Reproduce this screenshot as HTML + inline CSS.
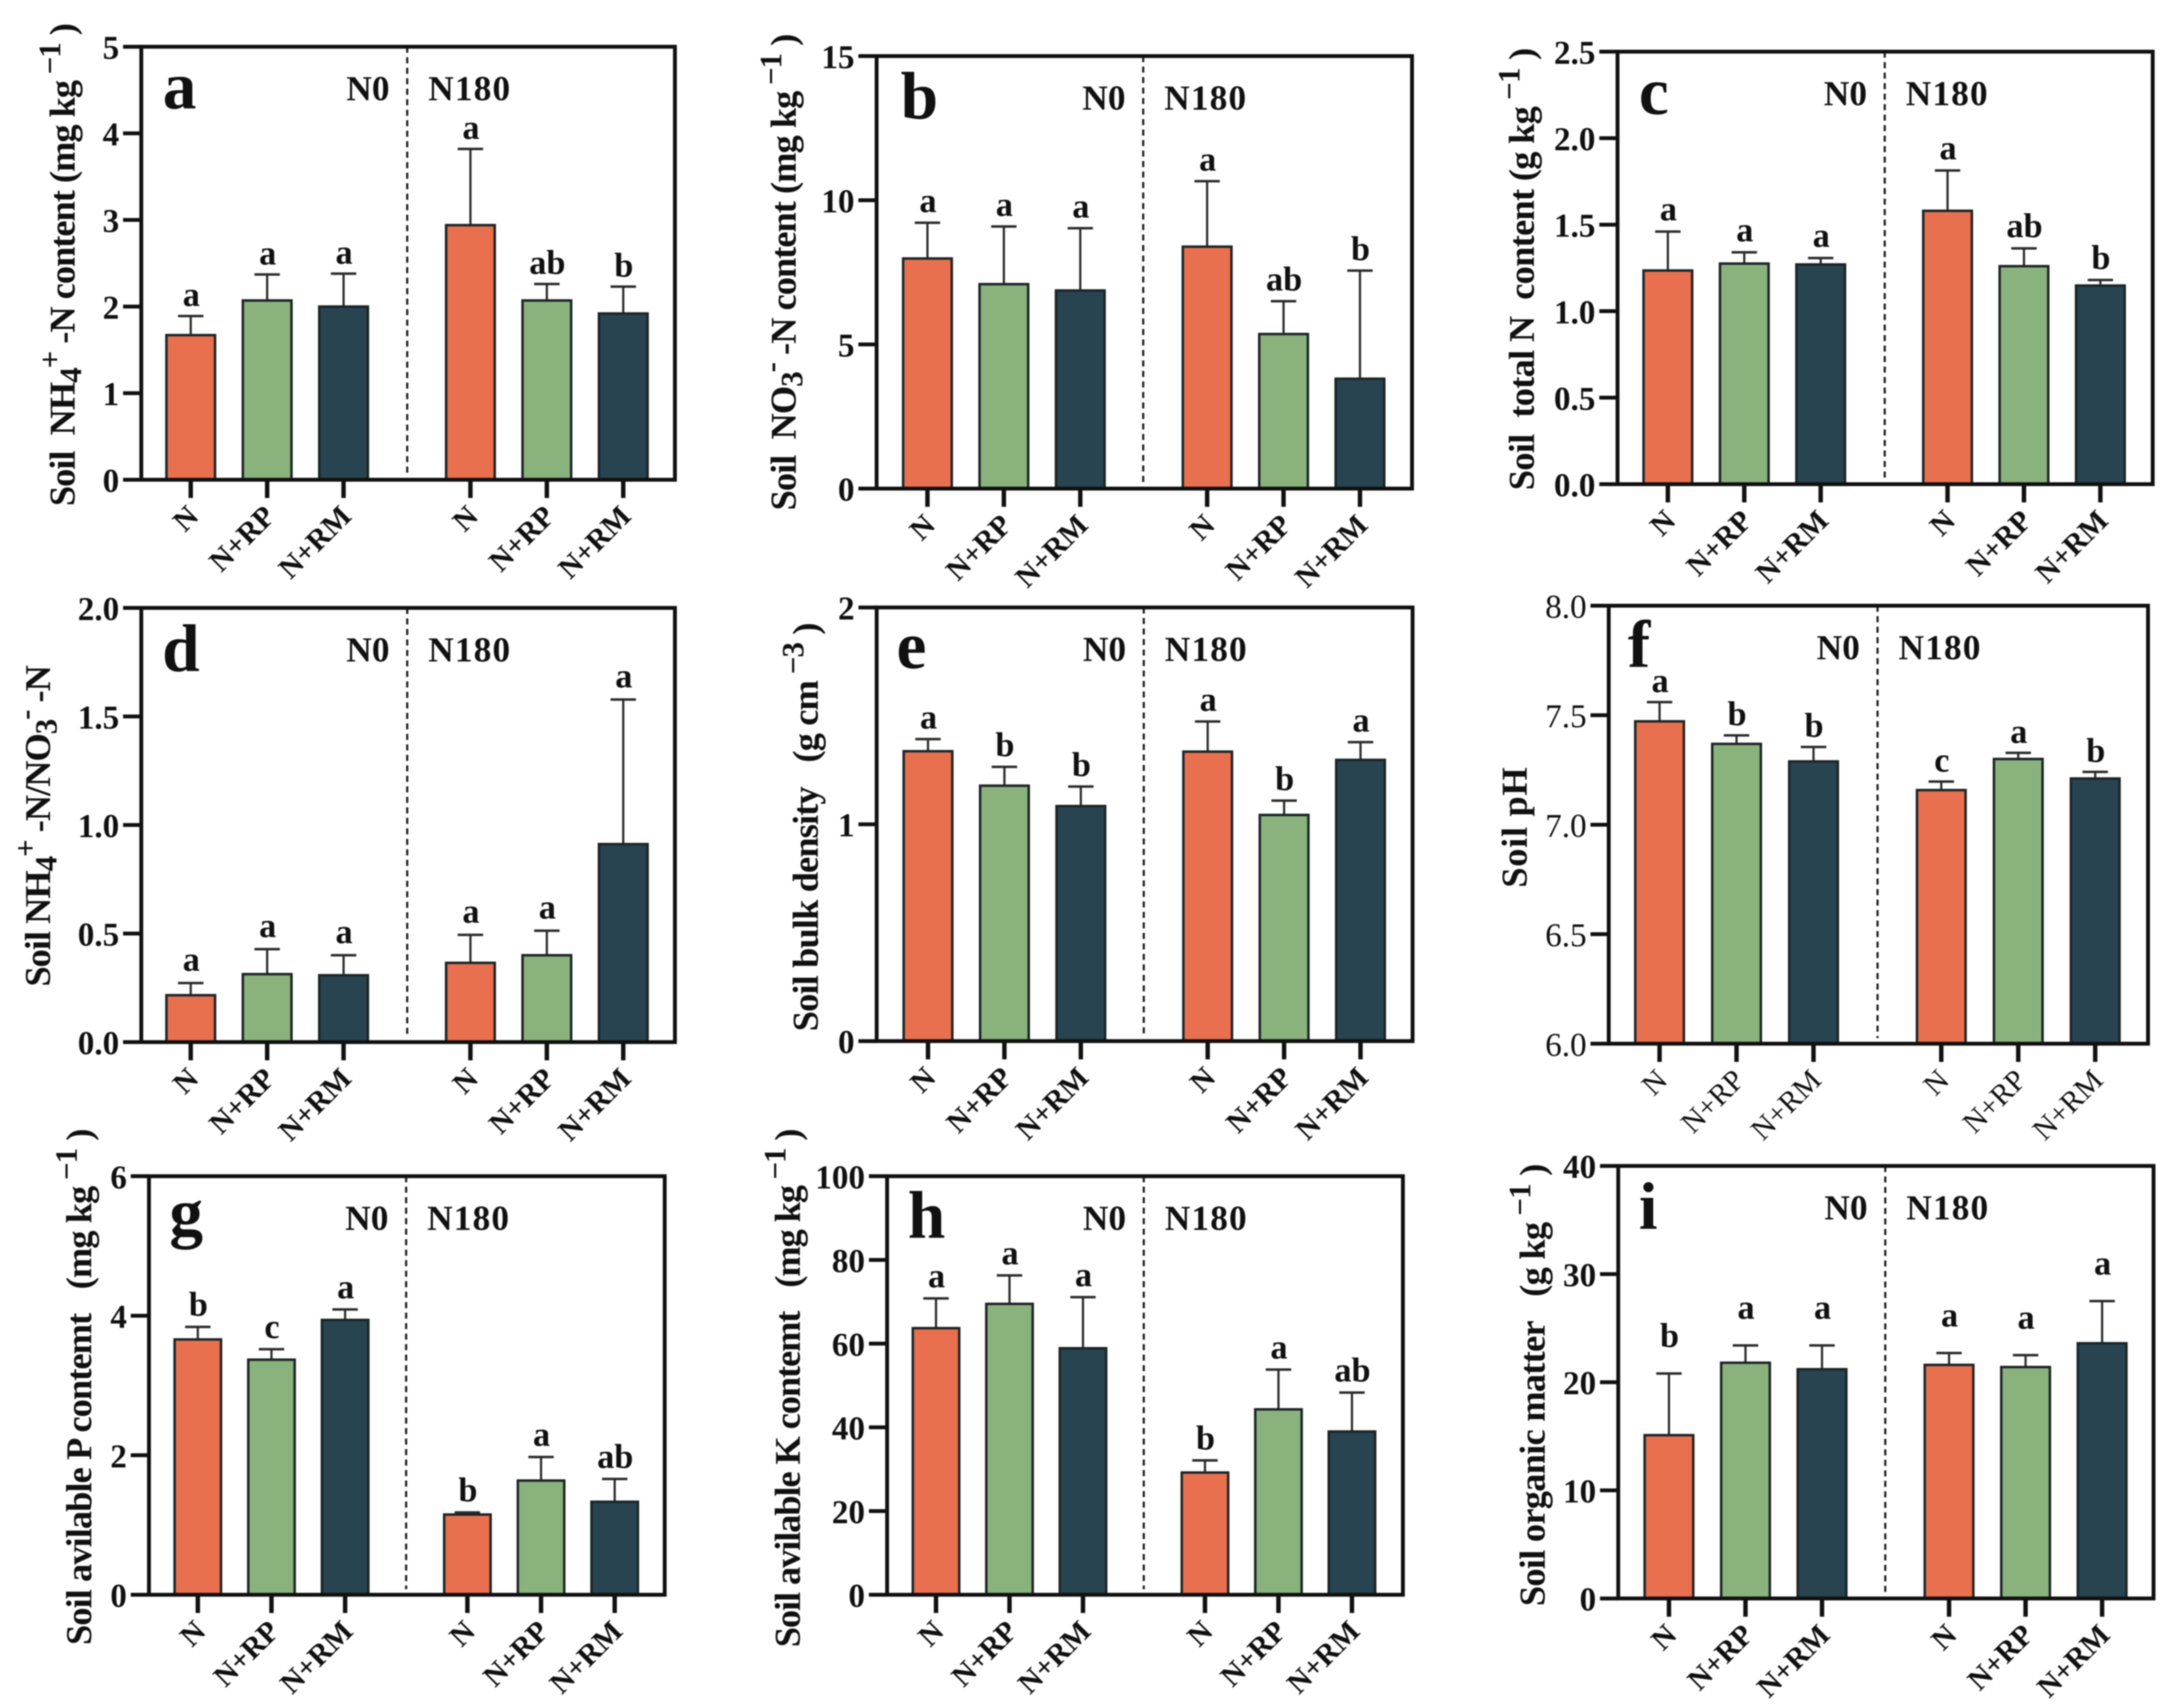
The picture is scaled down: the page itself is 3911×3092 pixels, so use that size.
<!DOCTYPE html>
<html lang="en">
<head>
<meta charset="utf-8">
<title>Soil properties bar chart panels</title>
<style>
html,body{margin:0;padding:0;background:#fff;}
svg{display:block;filter:blur(1px);}
text{font-family:"Liberation Serif","DejaVu Serif",serif;white-space:pre;fill:#111;}
</style>
</head>
<body>
<svg id="figure" xmlns="http://www.w3.org/2000/svg" width="3911" height="3092" viewBox="0 0 3911 3092"></svg>
<script>
const categories = ['N', 'N+RP', 'N+RM', 'N', 'N+RP', 'N+RM'];
const groupLabels = ['N0', 'N180'];
const barColors = ['#E8704F', '#8AB27D', '#274450'];

const ticks_a = ['0', '1', '2', '3', '4', '5'];
const means_a = [1.67, 2.07, 2.0, 2.94, 2.07, 1.92];
const errors_a = [0.22, 0.30, 0.38, 0.88, 0.19, 0.31];
const letters_a = ['a', 'a', 'a', 'a', 'ab', 'b'];

const ticks_b = ['0', '5', '10', '15'];
const means_b = [7.98, 7.09, 6.87, 8.39, 5.36, 3.81];
const errors_b = [1.24, 2.0, 2.16, 2.27, 1.14, 3.75];
const letters_b = ['a', 'a', 'a', 'a', 'ab', 'b'];

const ticks_c = ['0.0', '0.5', '1.0', '1.5', '2.0', '2.5'];
const means_c = [1.235, 1.275, 1.27, 1.58, 1.26, 1.148];
const errors_c = [0.225, 0.065, 0.037, 0.233, 0.103, 0.032];
const letters_c = ['a', 'a', 'a', 'a', 'ab', 'b'];

const ticks_d = ['0.0', '0.5', '1.0', '1.5', '2.0'];
const means_d = [0.216, 0.313, 0.308, 0.365, 0.40, 0.912];
const errors_d = [0.056, 0.115, 0.092, 0.129, 0.113, 0.666];
const letters_d = ['a', 'a', 'a', 'a', 'a', 'a'];

const ticks_e = ['0', '1', '2'];
const means_e = [1.337, 1.178, 1.084, 1.335, 1.043, 1.297];
const errors_e = [0.056, 0.087, 0.09, 0.139, 0.066, 0.082];
const letters_e = ['a', 'b', 'b', 'a', 'b', 'a'];

const ticks_f = ['6.0', '6.5', '7.0', '7.5', '8.0'];
const means_f = [7.472, 7.369, 7.289, 7.158, 7.30, 7.211];
const errors_f = [0.088, 0.039, 0.066, 0.039, 0.028, 0.03];
const letters_f = ['a', 'b', 'b', 'c', 'a', 'b'];

const ticks_g = ['0', '2', '4', '6'];
const means_g = [3.66, 3.37, 3.94, 1.15, 1.637, 1.333];
const errors_g = [0.18, 0.15, 0.15, 0.03, 0.338, 0.327];
const letters_g = ['b', 'c', 'a', 'b', 'a', 'ab'];

const ticks_h = ['0', '20', '40', '60', '80', '100'];
const means_h = [63.7, 69.5, 58.9, 29.2, 44.3, 39.0];
const errors_h = [7.1, 6.8, 12.2, 2.9, 9.5, 9.3];
const letters_h = ['a', 'a', 'a', 'b', 'a', 'ab'];

const ticks_i = ['0', '10', '20', '30', '40'];
const means_i = [15.1, 21.8, 21.2, 21.6, 21.4, 23.6];
const errors_i = [5.7, 1.6, 2.2, 1.1, 1.1, 3.9];
const letters_i = ['b', 'a', 'a', 'a', 'a', 'a'];

const title_a = [['Soil  NH', 0], ['4', -1], ['+', 1], [' -N content (mg kg', 0], [' \u22121', 1], [' )', 0]];
const title_b = [['Soil  NO', 0], ['3', -1], ['-', 1], [' -N content (mg kg', 0], [' \u22121', 1], [' )', 0]];
const title_c = [['Soil  total N  content (g kg', 0], [' \u22121', 1], [' )', 0]];
const title_d = [['Soil NH', 0], ['4', -1], ['+', 1], [' -N/NO', 0], ['3', -1], ['-', 1], [' -N', 0]];
const title_e = [['Soil bulk density   (g cm', 0], [' \u22123', 1], [' )', 0]];
const title_f = [['Soil pH', 0]];
const title_g = [['Soil avilable P contemt   (mg kg', 0], [' \u22121', 1], [' )', 0]];
const title_h = [['Soil avilable K contemt   (mg kg', 0], [' \u22121', 1], [' )', 0]];
const title_i = [['Soil organic matter   (g kg', 0], [' \u22121', 1], [' )', 0]];

const panels = [
  {id:'a', ticks:ticks_a, means:means_a, errors:errors_a, letters:letters_a, title:title_a, L:255.7, R:1221.5, T:84.6, B:868.5, x0:345.2, step:138.3, dash:737, barW:88, gap:18, titleX:135, titleB:916.3, titleLen:874.5, letterX:294.5, letterDy:112, bold:true},
  {id:'b', ticks:ticks_b, means:means_b, errors:errors_b, letters:letters_b, title:title_b, L:1586.5, R:2555.5, T:101.5, B:884.5, x0:1678.5, step:138.3, dash:2069, barW:88, gap:19, titleX:1440, titleB:924, titleLen:863, letterX:1630, letterDy:113, bold:true},
  {id:'c', ticks:ticks_c, means:means_c, errors:errors_c, letters:letters_c, title:title_c, L:2927.4, R:3896, T:93.5, B:876.5, x0:3018.5, step:138.3, dash:3411, barW:88, gap:20, titleX:2776, titleB:887.5, titleLen:801, letterX:2966, letterDy:113, bold:true},
  {id:'d', ticks:ticks_d, means:means_d, errors:errors_d, letters:letters_d, title:title_d, L:255.7, R:1221.5, T:1100.5, B:1886.5, x0:345.2, step:138.3, dash:737, barW:88, gap:22, titleX:90.5, titleB:1786, titleLen:582, letterX:293.5, letterDy:114, bold:true},
  {id:'e', ticks:ticks_e, means:means_e, errors:errors_e, letters:letters_e, title:title_e, L:1586.6, R:2556.5, T:1099.7, B:1884.7, x0:1679.5, step:138.3, dash:2070, barW:88, gap:19, titleX:1480, titleB:1867, titleLen:740, letterX:1622.5, letterDy:110, bold:true},
  {id:'f', ticks:ticks_f, means:means_f, errors:errors_f, letters:letters_f, title:title_f, L:2911.5, R:3887.5, T:1096.5, B:1889.4, x0:3003.5, step:139.3, dash:3398, barW:88, gap:18, titleX:2763, titleB:1607, titleLen:218, letterX:2946, letterDy:111, bold:false},
  {id:'g', ticks:ticks_g, means:means_g, errors:errors_g, letters:letters_g, title:title_g, L:269.6, R:1203, T:2129.3, B:2887, x0:358, step:133.3, dash:735, barW:84, gap:20, titleX:165, titleB:2978, titleLen:935, letterX:306.5, letterDy:106, bold:true},
  {id:'h', ticks:ticks_h, means:means_h, errors:errors_h, letters:letters_h, title:title_h, L:1605.5, R:2539, T:2129.3, B:2887, x0:1694, step:133, dash:2070, barW:84, gap:20, titleX:1447.3, titleB:2982, titleLen:939, letterX:1643, letterDy:111, bold:true},
  {id:'i', ticks:ticks_i, means:means_i, errors:errors_i, letters:letters_i, title:title_i, L:2928.7, R:3897.5, T:2110.7, B:2893.7, x0:3020.5, step:138.5, dash:3412, barW:88, gap:48, titleX:2795.4, titleB:2907.6, titleLen:801, letterX:2966, letterDy:114, bold:true}
];

const NS = 'http://www.w3.org/2000/svg';
const figure = document.getElementById('figure');

function node(tag, parent, attrs) {
  const el = document.createElementNS(NS, tag);
  for (const k in attrs) el.setAttribute(k, attrs[k]);
  parent.appendChild(el);
  return el;
}
function yScale(p, value) {
  const lo = Number(p.ticks[0]);
  const hi = Number(p.ticks[p.ticks.length - 1]);
  return p.B - (value - lo) / (hi - lo) * (p.B - p.T);
}
function xScale(p, index) {
  return p.x0 + p.step * (index + (index >= 3 ? 0.66 : 0));
}

panels.forEach(function (p) {
  const weight = p.bold ? 'bold' : 'normal';
  const g = node('g', figure, {});
  
  

  // bars
  p.means.forEach(function (mean, i) {
    const cx = xScale(p, i);
    const top = yScale(p, mean);
    const errTop = yScale(p, mean + p.errors[i]);

    const stem = node('line', g, {x1:cx, x2:cx, y1:top, y2:errTop, stroke:'#2b2b2b', 'stroke-width':4});
    
    

    const cap = node('line', g, {x1:cx - 23, x2:cx + 23, y1:errTop, y2:errTop, stroke:'#2b2b2b', 'stroke-width':4.5});
    
    

    const bar = node('rect', g, {x:cx - p.barW / 2, y:top, width:p.barW, height:p.B - top, fill:barColors[i % 3], stroke:'#1c2426', 'stroke-width':4.5});
    
    

    const sig = node('text', g, {x:cx + 1, y:errTop - p.gap, 'text-anchor':'middle', 'font-size':62, 'font-weight':'bold'});
    sig.textContent = p.letters[i];
    
    

    const tick = node('line', g, {x1:cx, x2:cx, y1:p.B, y2:p.B + 33, stroke:'#111', 'stroke-width':8});
    
    

    const bx = cx + 17;
    const by = p.B + 69;
    const xl = node('text', g, {x:bx, y:by, 'text-anchor':'end', 'font-size':54, 'font-weight':weight, transform:'rotate(-45 ' + bx + ' ' + by + ')'});
    xl.textContent = categories[i];
    
    
  });

  // divider
  const divider = node('line', g, {x1:p.dash, x2:p.dash, y1:p.T, y2:p.B - 10, stroke:'#222', 'stroke-width':4, 'stroke-dasharray':'11 8'});
  
  

  // frame
  const frame = node('rect', g, {x:p.L, y:p.T, width:p.R - p.L, height:p.B - p.T, fill:'none', stroke:'#111', 'stroke-width':7});
  
  

  // y ticks
  p.ticks.forEach(function (label) {
    const y = yScale(p, Number(label));
    const t = node('line', g, {x1:p.L - 33, x2:p.L, y1:y, y2:y, stroke:'#111', 'stroke-width':7});
    
    

    const tl = node('text', g, {x:p.L - 40, y:y + 22, 'text-anchor':'end', 'font-size':60, 'font-weight':weight});
    tl.textContent = label;
    
    
  });

  // group labels
  const n0 = node('text', g, {x:p.dash - 32, y:p.T + 97, 'text-anchor':'end', 'font-size':64, 'font-weight':'bold'});
  n0.textContent = groupLabels[0];
  
  

  const n180 = node('text', g, {x:p.dash + 38, y:p.T + 97, 'text-anchor':'start', 'font-size':64, 'font-weight':'bold', 'letter-spacing':2});
  n180.textContent = groupLabels[1];
  
  

  // panel letter
  const letter = node('text', g, {x:p.letterX, y:p.T + p.letterDy, 'font-size':122, 'font-weight':'bold', fill:'#000'});
  letter.textContent = p.id;
  
  

  // y title
  const title = node('text', g, {x:p.titleX, y:p.titleB, 'font-size':66, 'font-weight':'bold', textLength:p.titleLen, lengthAdjust:'spacing', transform:'rotate(-90 ' + p.titleX + ' ' + p.titleB + ')'});
  
  
  let shift = 0;
  p.title.forEach(function (seg) {
    const want = seg[1] === 1 ? -26 : (seg[1] === -1 ? 12 : 0);
    const ts = node('tspan', title, {dy:want - shift, 'font-size':seg[1] === 0 ? 66 : 56});
    ts.textContent = seg[0];
    shift = want;
  });
});
</script>
</body>
</html>
